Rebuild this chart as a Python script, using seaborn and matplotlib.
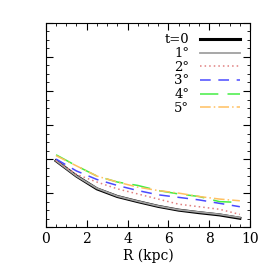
import pandas as pd
import seaborn as sns
import matplotlib.pyplot as plt
from matplotlib.ticker import MultipleLocator, NullFormatter

# radius bins (kpc)
radius = [0.5, 1.5, 2.5, 3.5, 4.5, 5.5, 6.5, 7.5, 8.5, 9.5]

labels = ["t=0", "1°", "2°", "3°", "4°", "5°"]
t0 = [0.39, 0.30, 0.225, 0.180, 0.150, 0.122, 0.100, 0.085, 0.072, 0.052]
t1 = [0.39, 0.30, 0.228, 0.182, 0.152, 0.124, 0.102, 0.088, 0.075, 0.056]
t2 = [0.39, 0.31, 0.265, 0.225, 0.195, 0.165, 0.135, 0.120, 0.105, 0.075]
t3 = [0.40, 0.33, 0.280, 0.245, 0.215, 0.190, 0.175, 0.160, 0.140, 0.120]
t4 = [0.425, 0.36, 0.300, 0.265, 0.245, 0.215, 0.195, 0.180, 0.150, 0.145]
t5 = [0.42, 0.36, 0.300, 0.265, 0.235, 0.215, 0.200, 0.180, 0.165, 0.155]

colors = ["black", "#a0a0a0", "#e08080", "#4a4aff", "#44ee44", "#ffc060"]
styles = ["-", "-", (0, (1, 2)), (0, (7, 5)), (0, (12, 6)), (0, (7, 2, 1, 2))]
widths = [2.2, 1.3, 1.1, 1.1, 1.1, 1.1]

plt.rcParams["font.family"] = ["DejaVu Serif"]

fig = plt.figure(figsize=(2.73, 2.73), dpi=100)
ax = fig.add_axes([0.168, 0.168, 0.748, 0.748])

for lab, ys, c, ls, lw in zip(labels, [t0, t1, t2, t3, t4, t5], colors, styles, widths):
    df = pd.DataFrame({"R": radius, "v": ys})
    sns.lineplot(data=df, x="R", y="v", ax=ax, color=c, linestyle=ls, lw=lw, label=lab)

ax.set_xlim(0, 10)
ax.set_ylim(0, 1.2)
ax.xaxis.set_major_locator(MultipleLocator(2))
ax.xaxis.set_minor_locator(MultipleLocator(0.5))
ax.yaxis.set_major_locator(MultipleLocator(0.2))
ax.yaxis.set_minor_locator(MultipleLocator(0.05))
ax.yaxis.set_major_formatter(NullFormatter())
ax.tick_params(which="both", direction="in", top=True, right=True, labelsize=10)
ax.tick_params(which="major", length=5)
ax.tick_params(which="minor", length=2.5)
ax.set_xlabel("R (kpc)", fontsize=10, labelpad=2)
ax.set_ylabel("")

ax.legend(loc="upper right", frameon=False, markerfirst=False, fontsize=9.5,
          handlelength=3.0, labelspacing=0.05, borderaxespad=0.4)

fig.savefig("out.png", dpi=100)
